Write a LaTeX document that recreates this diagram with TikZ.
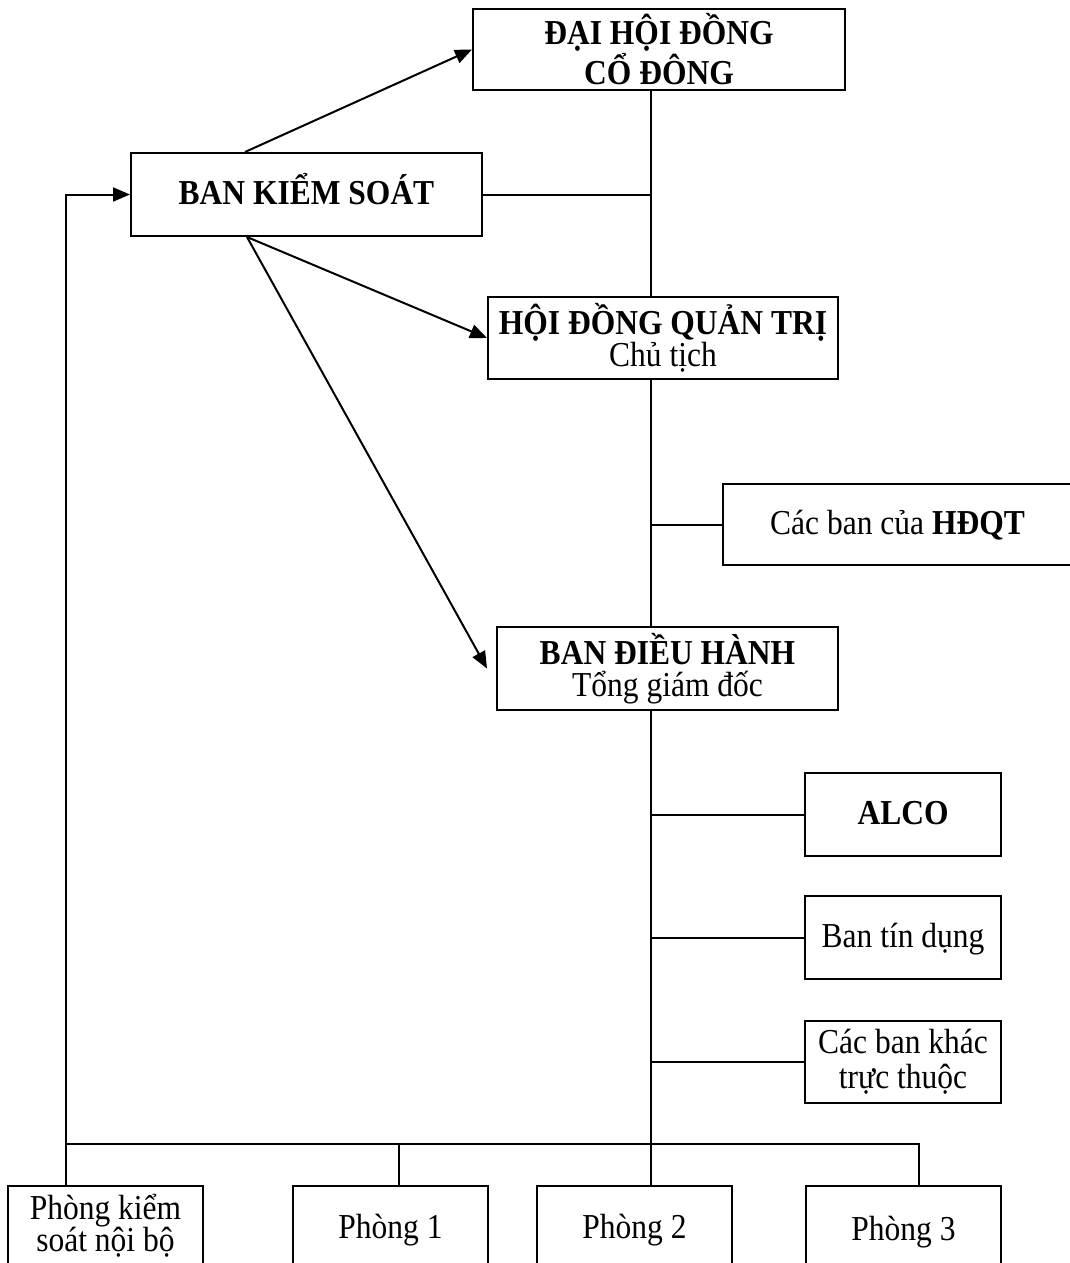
\documentclass[tikz,border=0pt]{standalone}
\usepackage{fontspec}
\setmainfont{Liberation Serif}[FakeStretch=0.9]
\usetikzlibrary{arrows.meta,calc}
\begin{document}
\begin{tikzpicture}[x=0.5pt,y=-0.5pt,line width=1pt,
  box/.style={draw,line width=1pt,inner sep=0pt,align=center,
    font=\fontsize{17.5pt}{16pt}\selectfont},
  one/.style={text height=1.02em,text depth=0.07em},
  arr/.style={-{Triangle[length=8.5pt,width=7pt]}}]
\useasboundingbox (0,0) rectangle (1070,1263);

% boxes
\node[box,minimum width=186pt,minimum height=40.5pt,
  font=\fontsize{17.5pt}{14pt}\selectfont] (dhcd) at (659,49.5)
  {\textbf{ĐẠI HỘI ĐỒNG}\\\textbf{CỔ ĐÔNG}};
\node[box,one,minimum width=175.5pt,minimum height=41.5pt] (bks) at (306.5,194.5)
  {\textbf{BAN KIỂM SOÁT}};
\node[box,minimum width=175pt,minimum height=41pt] (hdqt) at (663,338)
  {\textbf{HỘI ĐỒNG QUẢN TRỊ}\\Chủ tịch};
\node[box,one,minimum width=174.5pt,minimum height=40.5pt] (cbhdqt) at (897.5,524.5)
  {Các ban của \textbf{HĐQT}};
\node[box,minimum width=170.5pt,minimum height=41.5pt] (bdh) at (667.5,668.5)
  {\textbf{BAN ĐIỀU HÀNH}\\Tổng giám đốc};
\node[box,one,minimum width=98pt,minimum height=41.5pt] (alco) at (903,814.5)
  {\textbf{ALCO}};
\node[box,one,minimum width=98pt,minimum height=41.5pt] (btd) at (903,937.5)
  {Ban tín dụng};
\node[box,minimum width=98pt,minimum height=41pt,
  font=\fontsize{17.5pt}{17.5pt}\selectfont] (cbk) at (903,1062)
  {Các ban khác\\trực thuộc};
\node[box,minimum width=97.5pt,minimum height=40pt] (pks) at (105.5,1226)
  {Phòng kiểm\\soát nội bộ};
\node[box,minimum width=97.5pt,minimum height=44pt] (p1) at (390.5,1230) {Phòng 1};
\node[box,minimum width=97.5pt,minimum height=44pt] (p2) at (634.5,1230) {Phòng 2};
\node[box,minimum width=97.5pt,minimum height=46pt] (p3) at (903.5,1232) {Phòng 3};

% helper coordinates
\coordinate (mx) at (651,0);
\coordinate (lx) at (66,0);
\coordinate (p1x) at (399,0);
\coordinate (p3x) at (919,0);
\coordinate (bus) at (0,1144);

% main trunk
\draw (dhcd.south -| mx) -- (hdqt.north -| mx);
\draw (bks.east) -- (bks.east -| mx);
\draw (hdqt.south -| mx) -- (bdh.north -| mx);
\draw (cbhdqt.west) -- (cbhdqt.west -| mx);
\draw (bdh.south -| mx) -- (p2.north -| mx);
\draw (alco.west) -- (alco.west -| mx);
\draw (btd.west) -- (btd.west -| mx);
\draw (cbk.west) -- (cbk.west -| mx);

% bottom bus
\draw (lx |- bus) -- (p3x |- bus) -- (p3x |- p3.north);
\draw (p1x |- bus) -- (p1x |- p1.north);
\draw[arr] (lx |- pks.north) -- (lx |- bks.west) -- (bks.west);

% arrows from Ban kiem soat
\draw[arr] ($(bks.north)+(-61.5,0)$) -- (dhcd.west);
\draw[arr] ($(bks.south)+(-59.5,0)$) -- (hdqt.west);
\draw[arr] ($(bks.south)+(-59.5,0)$) -- ($(bdh.west)+(-9,0)$);
\end{tikzpicture}
\end{document}
